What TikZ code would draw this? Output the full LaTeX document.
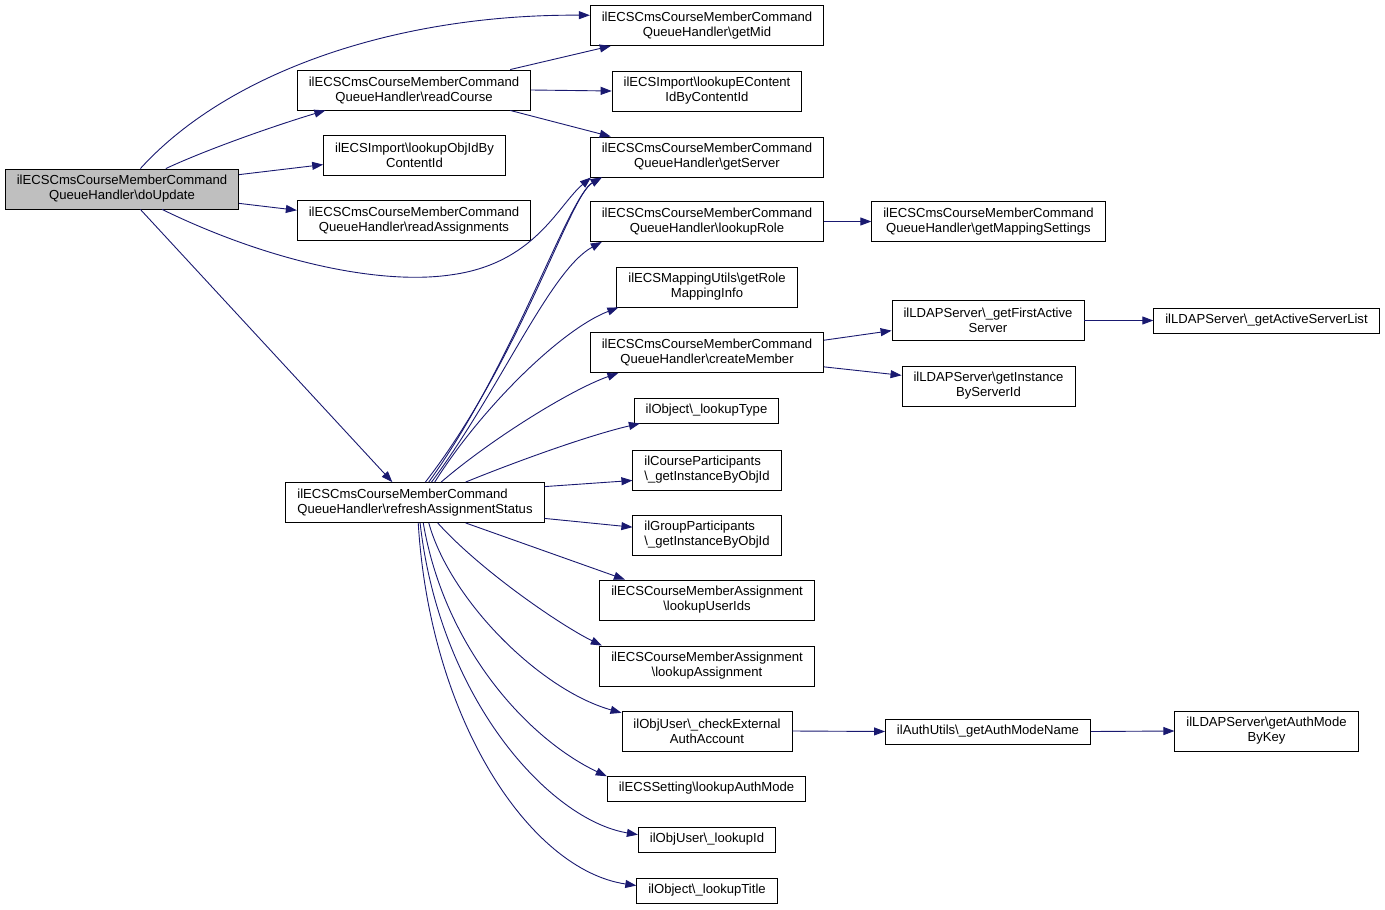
\documentclass[tikz,border=0pt]{standalone}
\usepackage{fontspec}
\setmainfont{Liberation Sans}
\usetikzlibrary{arrows.meta}
\definecolor{edgeblue}{HTML}{191970}
\definecolor{nodegray}{HTML}{BFBFBF}

\begin{document}
\begin{tikzpicture}[x=1pt, y=-1pt, >={Triangle[length=11pt, width=8pt]}, font=\fontsize{13.1}{15}\selectfont]

% Boxes for functions, thin blue call arrows
\tikzstyle{fn} = [draw, fill=white, line width=0.9pt, rectangle, inner xsep=11.5pt, inner ysep=2pt, minimum height=25pt, align=center]
\tikzstyle{fn2} = [fn, minimum height=40pt]
\tikzstyle{call} = [->, draw=edgeblue, line width=0.9pt]

\useasboundingbox (0, 0) rectangle (1385, 910);

% Caller
\node[fn2, fill=nodegray] (doUpdate) at (122, 189) {ilECSCmsCourseMemberCommand\\QueueHandler\textbackslash doUpdate};

% Second column
\node[fn2] (readCourse) at (414, 90) {ilECSCmsCourseMemberCommand\\QueueHandler\textbackslash readCourse};
\node[fn2] (lookupObjId) at (414.5, 155) {ilECSImport\textbackslash lookupObjIdBy\\ContentId};
\node[fn2] (readAssign) at (414, 220.5) {ilECSCmsCourseMemberCommand\\QueueHandler\textbackslash readAssignments};
\node[fn2, align=left] (refresh) at (415, 502.5) {ilECSCmsCourseMemberCommand\\QueueHandler\textbackslash refreshAssignmentStatus};

% Third column
\node[fn2] (getMid) at (707, 25.5) {ilECSCmsCourseMemberCommand\\QueueHandler\textbackslash getMid};
\node[fn2] (lookupECont) at (707, 91) {ilECSImport\textbackslash lookupEContent\\IdByContentId};
\node[fn2] (getServer) at (707, 157) {ilECSCmsCourseMemberCommand\\QueueHandler\textbackslash getServer};
\node[fn2] (lookupRole) at (707, 221.5) {ilECSCmsCourseMemberCommand\\QueueHandler\textbackslash lookupRole};
\node[fn2] (getRoleMap) at (707, 287) {ilECSMappingUtils\textbackslash getRole\\MappingInfo};
\node[fn2] (createMember) at (707, 352.5) {ilECSCmsCourseMemberCommand\\QueueHandler\textbackslash createMember};
\node[fn] (lookupType) at (706.5, 410.5) {ilObject\textbackslash\_lookupType};
\node[fn2, align=left] (courseParts) at (707, 470) {ilCourseParticipants\\\textbackslash\_getInstanceByObjId};
\node[fn2, align=left] (groupParts) at (707, 535) {ilGroupParticipants\\\textbackslash\_getInstanceByObjId};
\node[fn2] (lookupUserIds) at (707, 600) {ilECSCourseMemberAssignment\\\textbackslash lookupUserIds};
\node[fn2] (lookupAssign) at (707, 666) {ilECSCourseMemberAssignment\\\textbackslash lookupAssignment};
\node[fn2] (checkExt) at (707, 731) {ilObjUser\textbackslash\_checkExternal\\AuthAccount};
\node[fn] (lookupAuthMode) at (706.5, 788.5) {ilECSSetting\textbackslash lookupAuthMode};
\node[fn] (lookupId) at (707, 839.5) {ilObjUser\textbackslash\_lookupId};
\node[fn] (lookupTitle) at (707, 890.5) {ilObject\textbackslash\_lookupTitle};

% Fourth and fifth column
\node[fn2] (getMapping) at (988.5, 221.5) {ilECSCmsCourseMemberCommand\\QueueHandler\textbackslash getMappingSettings};
\node[fn2] (getFirstActive) at (988, 320.5) {ilLDAPServer\textbackslash\_getFirstActive\\Server};
\node[fn2] (getInstance) at (988.5, 386) {ilLDAPServer\textbackslash getInstance\\ByServerId};
\node[fn] (getAuthModeName) at (988, 731.5) {ilAuthUtils\textbackslash\_getAuthModeName};
\node[fn] (getActiveList) at (1266.5, 320.5) {ilLDAPServer\textbackslash\_getActiveServerList};
\node[fn2] (getAuthModeByKey) at (1266.5, 731) {ilLDAPServer\textbackslash getAuthMode\\ByKey};

% Calls of doUpdate
\draw[call] (doUpdate.48) .. controls (230, 70) and (400, 14) .. (getMid.175);
\draw[call] (doUpdate.25) .. controls (210, 148) and (280, 124) .. (readCourse.193);
\draw[call] (doUpdate.7) -- (lookupObjId.186);
\draw[call] (doUpdate.353) -- (readAssign.175);
\coordinate (dip) at (450, 275);
\draw[call] (doUpdate.333) .. controls (270, 262) and (380, 285) .. (dip) .. controls (535, 264) and (558, 205) .. (getServer.190);
\draw[call] (doUpdate.312) -- (refresh.138);

% Calls of readCourse
\draw[call] (readCourse.12) -- (getMid.192);
\draw[call] (readCourse.east) -- (lookupECont.west);
\draw[call] (readCourse.348) -- (getServer.168);

% Calls of refreshAssignmentStatus, upwards
\draw[call] (refresh.63) .. controls (520, 360) and (570, 195) .. (getServer.191);
\draw[call] (refresh.56) .. controls (515, 362) and (568, 197) .. (getServer.191);
\draw[call] (refresh.51) .. controls (500, 390) and (550, 270) .. (lookupRole.191);
\draw[call] (refresh.46) .. controls (480, 410) and (560, 330) .. (getRoleMap.193);
\draw[call] (refresh.38) .. controls (490, 440) and (570, 390) .. (createMember.193);
\draw[call] (refresh.22) .. controls (520, 460) and (590, 435) .. (lookupType.191);
\draw[call] (refresh.7) -- (courseParts.188);

% Calls of refreshAssignmentStatus, downwards
\draw[call] (refresh.353) -- (groupParts.174);
\draw[call] (refresh.338) -- (lookupUserIds.166);
\draw[call] (refresh.318) .. controls (480, 570) and (560, 625) .. (lookupAssign.169);
\draw[call] (refresh.304) .. controls (450, 600) and (540, 690) .. (checkExt.168);
\draw[call] (refresh.292) .. controls (445, 650) and (530, 740) .. (lookupAuthMode.173);
\draw[call] (refresh.284) .. controls (440, 700) and (550, 820) .. (lookupId.176);
\draw[call] (refresh.279) .. controls (430, 720) and (530, 870) .. (lookupTitle.176);

% Further calls
\draw[call] (lookupRole.east) -- (getMapping.west);
\draw[call] (createMember.6) -- (getFirstActive.186);
\draw[call] (createMember.353) -- (getInstance.173);
\draw[call] (getFirstActive.east) -- (getActiveList.west);
\draw[call] (checkExt.east) -- (getAuthModeName.west);
\draw[call] (getAuthModeName.east) -- (getAuthModeByKey.west);

\end{tikzpicture}
\end{document}
